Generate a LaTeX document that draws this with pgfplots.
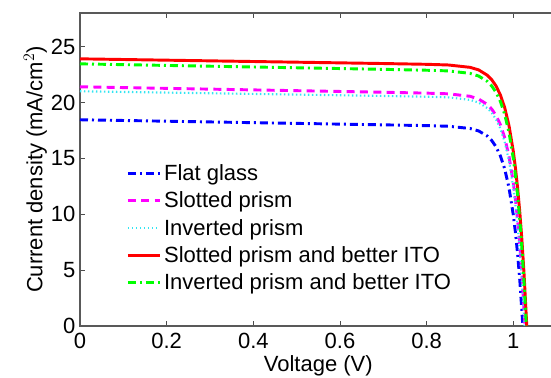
\documentclass[border=0pt]{standalone}
\usepackage{fontspec}
\setmainfont{Liberation Sans}
\usepackage{pgfplots}
\pgfplotsset{compat=1.18}
\definecolor{mgt}{rgb}{1,0,1}
\definecolor{cyn}{rgb}{0.2,0.9,0.95}
\definecolor{grn}{rgb}{0,1,0}
\begin{document}
\begin{tikzpicture}
\begin{axis}[
  at={(0,0)}, anchor=south west,
  scale only axis,
  width=357.5pt, height=234.75pt,
  xmin=0, xmax=1.1, ymin=0, ymax=28,
  xtick={0,0.2,0.4,0.6,0.8,1},
  xticklabels={0,0.2,0.4,0.6,0.8,1},
  ytick={0,5,10,15,20,25},
  tick align=inside,
  major tick length=4pt,
  tick style={black!70, line width=0.6pt},
  axis line style={black!65, line width=0.8pt},
  /pgf/number format/assume math mode=true,
  tick label style={font=\fontsize{16.5}{19}\selectfont},
  xticklabel style={yshift=-2pt},
  label style={font=\fontsize{16.5}{19}\selectfont},
  xlabel={Voltage (V)},
  ylabel={Current density (mA/cm$^2$)},
  xlabel style={yshift=2pt},
  ylabel style={yshift=-4pt},
  legend style={draw=none, fill=none, at={(0.097,0.525)}, anchor=north west,
    font=\fontsize{16.5}{19}\selectfont, row sep=3pt, inner sep=0pt},
  legend cell align=left,
  legend image code/.code={\draw[#1] (0pt,0pt) -- (24pt,0pt);},
]
\addplot[blue, line width=2.2pt, dash pattern=on 6pt off 3pt on 1.5pt off 3pt] coordinates {
(0,18.45)(0.1,18.385)(0.2,18.32)(0.3,18.255)(0.4,18.19)(0.5,18.125)(0.6,18.06)(0.7,17.995)
(0.8,17.925)(0.85,17.87)(0.9,17.67)(0.92,17.45)(0.94,16.99)(0.95,16.60)(0.96,16.04)
(0.97,15.23)(0.98,14.06)(0.99,12.37)(1.0,9.92)(1.005,8.33)(1.01,6.38)(1.015,4.06)(1.022,0)};
\addlegendentry{Flat glass}
\addplot[mgt, line width=2.2pt, dash pattern=on 6pt off 4pt] coordinates {
(0,21.4)(0.1,21.33)(0.2,21.26)(0.3,21.19)(0.4,21.12)(0.5,21.05)(0.6,20.98)(0.7,20.91)
(0.8,20.83)(0.85,20.77)(0.9,20.55)(0.92,20.30)(0.94,19.82)(0.95,19.41)(0.96,18.84)
(0.97,18.02)(0.98,16.85)(0.99,15.19)(1.0,12.81)(1.005,11.27)(1.01,9.42)(1.015,7.23)(1.02,4.58)(1.027,0)};
\addlegendentry{Slotted prism}
\addplot[cyn, line width=1.6pt, dash pattern=on 1pt off 2pt] coordinates {
(0,21.0)(0.1,20.94)(0.2,20.88)(0.3,20.82)(0.4,20.76)(0.5,20.70)(0.6,20.64)(0.7,20.58)
(0.8,20.51)(0.85,20.45)(0.9,20.23)(0.92,19.99)(0.94,19.49)(0.95,19.08)(0.96,18.49)
(0.97,17.66)(0.98,16.47)(0.99,14.78)(1.0,12.35)(1.005,10.78)(1.01,8.88)(1.015,6.63)(1.02,3.94)(1.026,0)};
\addlegendentry{Inverted prism}
\addplot[red, line width=2.2pt] coordinates {
(0,23.9)(0.1,23.84)(0.2,23.78)(0.3,23.72)(0.4,23.66)(0.5,23.60)(0.6,23.54)(0.7,23.48)
(0.8,23.41)(0.85,23.35)(0.9,23.14)(0.92,22.91)(0.94,22.43)(0.95,22.04)(0.96,21.48)
(0.97,20.68)(0.98,19.54)(0.99,17.92)(1.0,15.61)(1.005,14.10)(1.01,12.30)(1.015,10.14)(1.02,7.58)(1.025,4.49)(1.031,0)};
\addlegendentry{Slotted prism and better ITO}
\addplot[grn, line width=2.2pt, dash pattern=on 6pt off 3pt on 1.5pt off 3pt] coordinates {
(0,23.45)(0.1,23.38)(0.2,23.31)(0.3,23.24)(0.4,23.17)(0.5,23.10)(0.6,23.03)(0.7,22.96)
(0.8,22.88)(0.85,22.82)(0.9,22.60)(0.92,22.36)(0.94,21.88)(0.95,21.48)(0.96,20.91)
(0.97,20.10)(0.98,18.95)(0.99,17.31)(1.0,14.97)(1.005,13.44)(1.01,11.62)(1.015,9.44)(1.02,6.83)(1.025,3.73)(1.03,0)};
\addlegendentry{Inverted prism and better ITO}
\end{axis}
\pgfresetboundingbox
\path (-60pt,-39pt) rectangle (353.25pt,244.5pt);
\end{tikzpicture}
\end{document}
